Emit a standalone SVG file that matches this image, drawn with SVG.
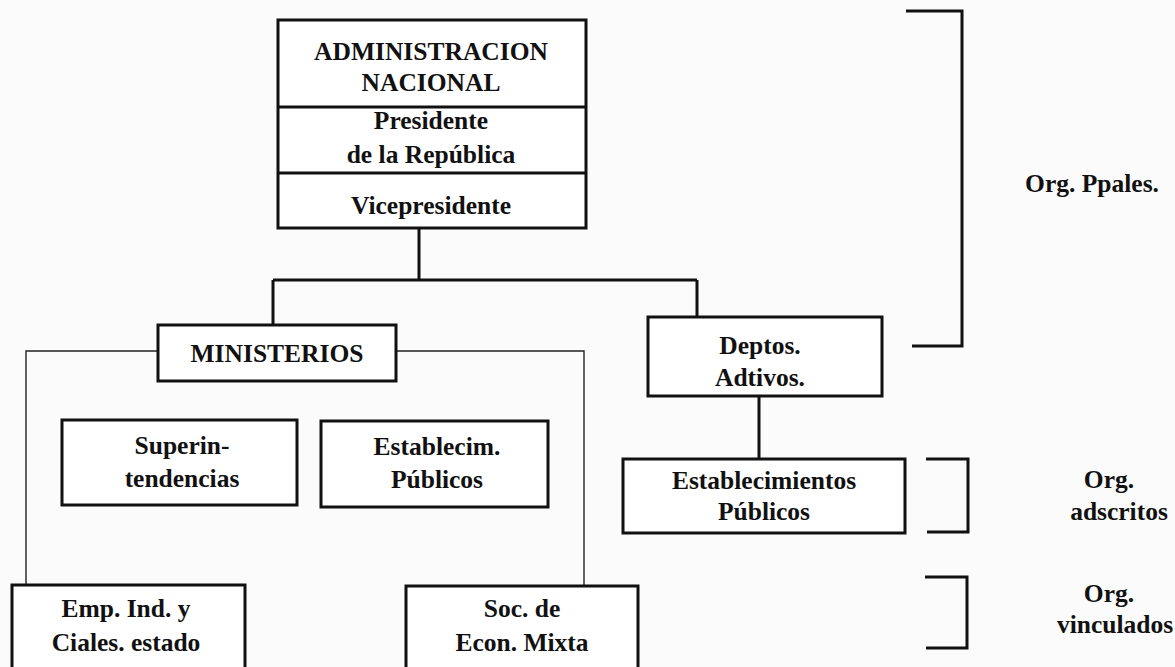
<svg xmlns="http://www.w3.org/2000/svg" width="1175" height="667" viewBox="0 0 1175 667">
<style>
.box{fill:#fff;stroke:#111;stroke-width:3}
.ln{fill:none;stroke:#111;stroke-width:3}
.thin{fill:none;stroke:#222;stroke-width:1.4}
text{font-family:"Liberation Serif","Times New Roman",serif;font-weight:bold;font-size:25.5px;fill:#111;text-anchor:middle}
</style>
<rect width="1175" height="667" fill="#fbfbfb"/>
<g id="connectors">
<path class="ln" d="M419 228 V280 M273 280 H697 M273 280 V325 M697 280 V317"/>
<path class="ln" d="M759 396 V459"/>
<path class="thin" d="M158 351 H26 V585 M396 351 H584 V586"/>
</g>
<g id="admin">
<rect class="box" x="278" y="20" width="308" height="208"/>
<path class="ln" d="M278 107 H586 M278 173 H586"/>
<text x="431" y="60">ADMINISTRACION</text>
<text x="431" y="91">NACIONAL</text>
<text x="431" y="129">Presidente</text>
<text x="431" y="163">de la República</text>
<text x="431" y="214">Vicepresidente</text>
</g>
<g id="ministerios">
<rect class="box" x="158" y="325" width="238" height="56"/>
<text x="277" y="362">MINISTERIOS</text>
</g>
<g id="superintendencias">
<rect class="box" x="62" y="420" width="235" height="85"/>
<text x="182" y="454">Superin-</text>
<text x="182" y="487">tendencias</text>
</g>
<g id="establecim">
<rect class="box" x="321" y="421" width="227" height="86"/>
<text x="437" y="455">Establecim.</text>
<text x="437" y="488">Públicos</text>
</g>
<g id="deptos">
<rect class="box" x="648" y="317" width="234" height="79"/>
<text x="760" y="354">Deptos.</text>
<text x="760" y="386">Adtivos.</text>
</g>
<g id="establecimientos">
<rect class="box" x="623" y="459" width="282" height="74"/>
<text x="764" y="489">Establecimientos</text>
<text x="764" y="520">Públicos</text>
</g>
<g id="emp">
<rect class="box" x="12" y="585" width="233" height="95"/>
<text x="126" y="617">Emp. Ind. y</text>
<text x="126" y="651">Ciales. estado</text>
</g>
<g id="soc">
<rect class="box" x="406" y="586" width="232" height="95"/>
<text x="522" y="617">Soc. de</text>
<text x="522" y="651">Econ. Mixta</text>
</g>
<g id="brackets">
<path class="ln" d="M906 11 H962 V346 H912"/>
<path class="ln" d="M926 459 H968 V532 H927"/>
<path class="ln" d="M925 577 H967 V648 H926"/>
</g>
<g id="labels">
<text x="1092" y="192">Org. Ppales.</text>
<text x="1109" y="488">Org.</text>
<text x="1119" y="520">adscritos</text>
<text x="1109" y="602">Org.</text>
<text x="1115" y="633">vinculados</text>
</g>
</svg>
